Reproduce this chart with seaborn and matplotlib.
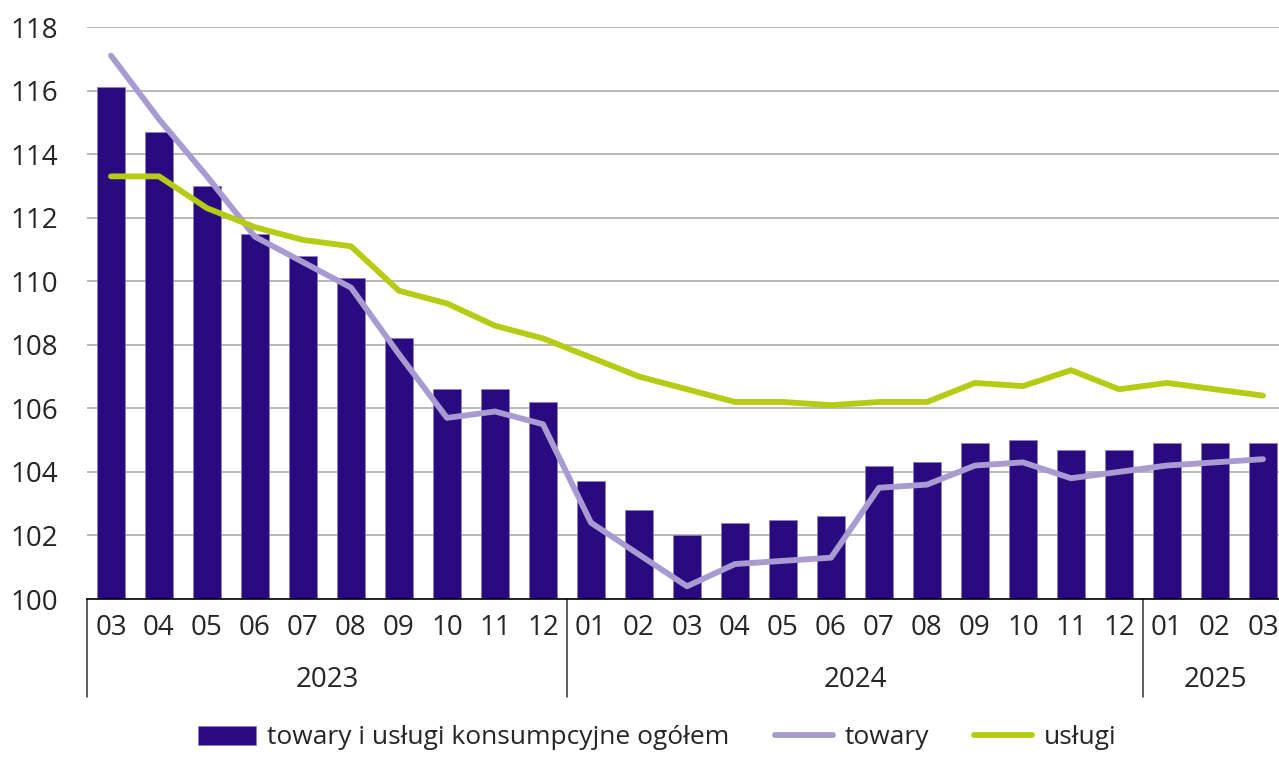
import numpy as np
import pandas as pd
import seaborn as sns
import matplotlib.pyplot as plt
import matplotlib.transforms as mtransforms

# Monthly data, 2023-03 .. 2025-03
months = ['03', '04', '05', '06', '07', '08', '09', '10', '11', '12',
          '01', '02', '03', '04', '05', '06', '07', '08', '09', '10', '11', '12',
          '01', '02', '03']
years = ['2023', '2024', '2025']
year_sizes = [10, 12, 3]

ogolem = [116.1, 114.7, 113.0, 111.5, 110.8, 110.1, 108.2, 106.6, 106.6, 106.2,
          103.7, 102.8, 102.0, 102.4, 102.5, 102.6, 104.2, 104.3, 104.9, 105.0, 104.7, 104.7,
          104.9, 104.9, 104.9]
towary = [117.1, 115.1, 113.3, 111.4, 110.6, 109.8, 107.7, 105.7, 105.9, 105.5,
          102.4, 101.4, 100.4, 101.1, 101.2, 101.3, 103.5, 103.6, 104.2, 104.3, 103.8, 104.0,
          104.2, 104.3, 104.4]
uslugi = [113.3, 113.3, 112.3, 111.7, 111.3, 111.1, 109.7, 109.3, 108.6, 108.2,
          107.6, 107.0, 106.6, 106.2, 106.2, 106.1, 106.2, 106.2, 106.8, 106.7, 107.2, 106.6,
          106.8, 106.6, 106.4]

df = pd.DataFrame({'idx': np.arange(len(months)), 'ogolem': ogolem,
                   'towary': towary, 'uslugi': uslugi})

sns.set_style('white')
plt.rcParams['font.family'] = ['Open Sans', 'DejaVu Sans']
fs = 20

fig = plt.figure(figsize=(12.79, 7.58), dpi=100)
ax = fig.add_axes([87 / 1279, 159 / 758, 1200 / 1279, 572 / 758])

sns.barplot(data=df, x='idx', y='ogolem', color='#2a0a80', width=0.58,
            edgecolor='#8a80c0', linewidth=0.5, saturation=1,
            label='towary i usługi konsumpcyjne ogółem', ax=ax, zorder=2)
sns.lineplot(data=df, x='idx', y='towary', color='#a99bd1', linewidth=4.2,
             label='towary', ax=ax, zorder=3)
sns.lineplot(data=df, x='idx', y='uslugi', color='#b6cb14', linewidth=4.2,
             label='usługi', ax=ax, zorder=4)

ax.set_xlim(-0.5, len(months) - 0.5)
ax.set_ylim(100, 118)
ax.set_yticks(np.arange(100, 119, 2))
ax.yaxis.grid(True, color='#a6a6a6', linewidth=1.1, zorder=0)
ax.set_axisbelow(True)
ax.set_xticks(df['idx'])
ax.set_xticklabels(months)
ax.set_xlabel('')
ax.set_ylabel('')
ax.tick_params(axis='x', length=0, pad=11, labelsize=fs)
ax.tick_params(axis='y', length=0, pad=21, labelsize=fs)
for s in ['top', 'right', 'left']:
    ax.spines[s].set_visible(False)
ax.spines['bottom'].set_color('black')
ax.spines['bottom'].set_linewidth(1.2)

# year separators and labels
trans = mtransforms.blended_transform_factory(ax.transData, ax.transAxes)
start = 0
bounds = [-0.5]
for y, n in zip(years, year_sizes):
    ax.text(start + (n - 1) / 2, -0.142, y, transform=trans, ha='center',
            va='center', fontsize=fs)
    start += n
    bounds.append(start - 0.5)
for b in bounds[:-1]:
    ax.plot([b, b], [0, -0.171], transform=trans, color='#333333',
            linewidth=1.1, clip_on=False)

handles, labels = ax.get_legend_handles_labels()
ax.get_legend().remove()
order = [labels.index(l) for l in ['towary i usługi konsumpcyjne ogółem', 'towary', 'usługi']]
fig.legend([handles[i] for i in order], [labels[i] for i in order],
           loc='center', bbox_to_anchor=(657 / 1279, 20 / 758), ncol=3,
           frameon=False, fontsize=19, handlelength=2.2, handletextpad=0.45,
           columnspacing=1.7)

fig.savefig('out.png', dpi=100)
